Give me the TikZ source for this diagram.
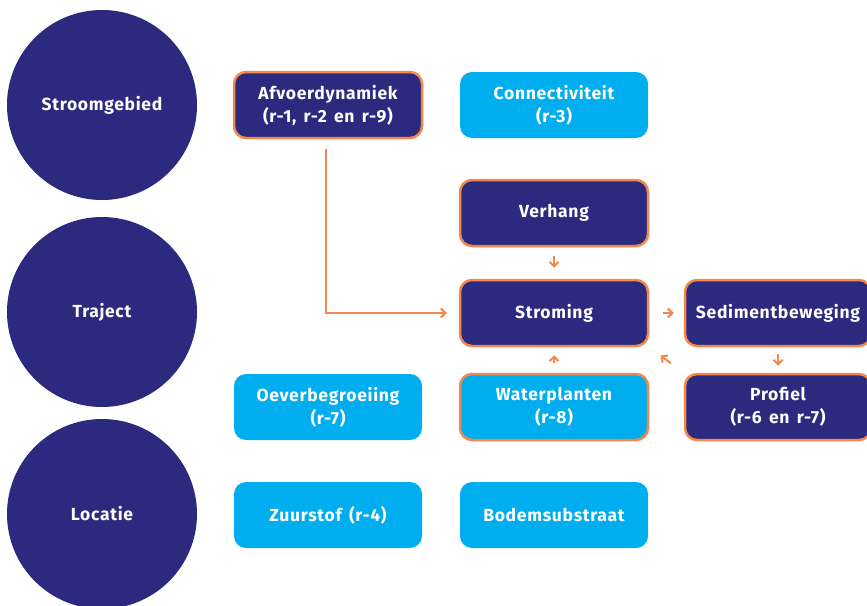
\documentclass[tikz,border=0pt]{standalone}
\usepackage{fontspec}
\setmainfont{Fira Sans}[LetterSpace=4,WordSpace=1.5]
\usetikzlibrary{arrows.meta}
\definecolor{navy}{HTML}{2B2A7E}
\definecolor{sky}{HTML}{00AEEF}
\definecolor{orng}{HTML}{F4874B}
\tikzset{
  lvl/.style={circle,fill=navy,minimum size=190pt,inner sep=0pt,text=white,font=\bfseries\fontsize{17.5}{22}\selectfont},
  box/.style={rounded corners=12pt,minimum width=188pt,minimum height=66pt,inner sep=0pt,text=white,align=center,font=\bfseries\fontsize{17.5}{23}\selectfont},
  dbox/.style={box,fill=navy,draw=orng,line width=2.5pt},
  lbox/.style={box,fill=sky},
  lobox/.style={box,fill=sky,draw=orng,line width=2.5pt},
  arr/.style={draw=orng,line width=2pt,-{Straight Barb[length=4.5pt,width=9pt]}}
}
\begin{document}
\begin{tikzpicture}[x=1pt,y=-1pt]
\useasboundingbox (0,0) rectangle (867,605);
\clip (0,0) rectangle (867,605);
\node[lvl] (c1) at (102,105) {Stroomgebied};
\node[lvl] (c2) at (102,312) {Traject};
\node[lvl] (c3) at (102,514) {Locatie};
\node[dbox] (afvoer) at (328,105) {Afvoerdynamiek\\(r-1, r-2 en r-9)};
\node[lbox] (conn) at (554,105) {Connectiviteit\\(r-3)};
\node[dbox] (verhang) at (554,213) {Verhang};
\node[dbox] (stroming) at (554,313) {Stroming};
\node[dbox,minimum width=186pt] (sediment) at (778,313) {Sedimentbeweging};
\node[lbox] (oever) at (328,407) {Oeverbegroeiing\\(r-7)};
\node[lobox] (water) at (554,407) {Waterplanten\\(r-8)};
\node[dbox,minimum width=186pt] (profiel) at (778,407) {Profiel\\(r-6 en r-7)};
\node[lbox] (zuurstof) at (328,515) {Zuurstof (r-4)};
\node[lbox] (bodem) at (554,515) {Bodemsubstraat};
\draw[arr,shorten <=9pt,shorten >=11pt] (verhang) -- (stroming);
\draw[arr,shorten <=10pt,shorten >=8pt] (water) -- (stroming);
\draw[arr,shorten <=14pt,shorten >=10pt] (stroming) -- (sediment);
\draw[arr,shorten <=7pt,shorten >=7pt] (sediment) -- (profiel);
\draw[arr,shorten <=16pt,shorten >=14pt] (profiel.north west) -- (stroming.south east);
\draw[arr,shorten <=10pt,shorten >=12pt] ([xshift=-2pt]afvoer.south) |- (stroming.west);
\end{tikzpicture}
\end{document}
